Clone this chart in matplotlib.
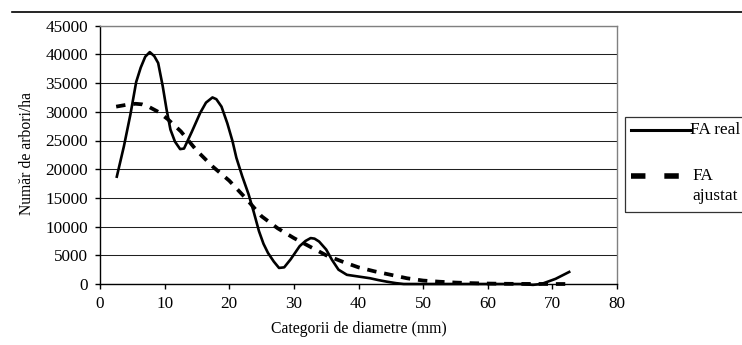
import matplotlib
matplotlib.use("Agg")
import matplotlib.pyplot as plt
from matplotlib.lines import Line2D
from matplotlib.patches import Rectangle

plt.rcParams['font.family'] = ['Liberation Serif', 'DejaVu Serif']

# Data
real_x = [2.6, 3.7, 4.7, 5.6, 6.3, 7.0, 7.7, 8.4, 9.0, 9.7, 10.3, 10.9, 11.6, 12.4, 13.0,
          14.2, 15.5, 16.4, 17.4, 18.0, 18.8, 19.7, 20.5, 21.1, 22.0, 23.0, 23.8, 24.6,
          25.3, 26.0, 26.9, 27.7, 28.5, 29.5, 30.9, 31.8, 32.6, 33.2, 33.9, 35.0, 35.9,
          36.9, 38.2, 40.0, 41.8, 43.0, 44.4, 45.8, 47.0, 50, 55, 60, 65, 67.0, 68.3,
          70.5, 72.6]
real_y = [18700, 24000, 29500, 35200, 37700, 39600, 40400, 39700, 38500, 34500, 30400,
          26900, 24800, 23500, 23600, 26500, 29800, 31600, 32500, 32200, 30900, 28000,
          24900, 22000, 18800, 15600, 12500, 9200, 7000, 5400, 3900, 2800, 2900, 4300,
          6600, 7500, 8000, 7900, 7400, 6000, 4200, 2500, 1600, 1300, 1000, 700, 400,
          150, 0, 0, 0, 0, 0, -150, 0, 900, 2100]

fit_x = [2.5, 4, 5.5, 6.5, 7.5, 9, 10.5, 12.5, 15, 17.5, 20, 22.5, 25, 27.5, 30, 32.5,
         35, 37.5, 40, 42.5, 45, 47.5, 50, 52.5, 55, 57.5, 60, 62.5, 65, 67.5, 70, 72.5]
fit_y = [30900, 31200, 31400, 31300, 30900, 30000, 28700, 26600, 23200, 20400, 18000,
         15000, 11800, 9700, 8000, 6500, 5000, 3900, 2900, 2200, 1600, 1000, 600, 400,
         250, 150, 80, 40, 20, 10, 0, 0]

series_labels = ["FA real", "FA\najustat"]
xlabel = "Categorii de diametre (mm)"
ylabel = "Număr de arbori/ha"
xticks = [0, 10, 20, 30, 40, 50, 60, 70, 80]
yticks = [0, 5000, 10000, 15000, 20000, 25000, 30000, 35000, 40000, 45000]

W, H = 742, 345
AX_L, AX_R, AX_T, AX_B = 100, 617, 25.7, 284
fig = plt.figure(figsize=(W / 100, H / 100), dpi=100)
ax = fig.add_axes([AX_L / W, 1 - AX_B / H, (AX_R - AX_L) / W, (AX_B - AX_T) / H])

ax.set_xlim(0, 80)
ax.set_ylim(0, 45000)
ax.set_xticks(xticks)
ax.set_yticks(yticks)
ax.set_yticklabels([str(v) for v in yticks])
ax.tick_params(axis='both', labelsize=12.3, direction='out', length=3.6, width=1,
               color='black', pad=5.2)
ax.yaxis.grid(True, color='#202020', linewidth=0.75)
ax.set_axisbelow(True)
for s in ['top', 'right']:
    ax.spines[s].set_color('#808080')
    ax.spines[s].set_linewidth(1.0)
for s in ['left', 'bottom']:
    ax.spines[s].set_color('black')
    ax.spines[s].set_linewidth(1.0)

ax.plot(real_x, real_y, color='black', linewidth=1.9, solid_joinstyle='round',
        clip_on=False)
ax.plot(fit_x, fit_y, color='black', linewidth=2.7, linestyle=(0, (2.5, 2.1)),
        dash_capstyle='butt', clip_on=False)

ax.set_xlabel(xlabel, fontsize=11.3, va='center')
ax.xaxis.set_label_coords(((AX_L + AX_R) / 2 - AX_L) / (AX_R - AX_L),
                          (AX_B - 329) / (AX_B - AX_T))
ax.set_ylabel(ylabel, fontsize=11.3, va='center')
ax.yaxis.set_label_coords((27.5 - AX_L) / (AX_R - AX_L),
                          (AX_B - 153.5) / (AX_B - AX_T))

# top rule
fig.add_artist(Line2D([12 / W, 1.0], [1 - 12 / H, 1 - 12 / H], color='black',
                      linewidth=1.2, transform=fig.transFigure))

# legend (drawn manually to match the reference layout)
fig.add_artist(Rectangle((624.5 / W, 1 - 212 / H), (760 - 624.5) / W, (212 - 116.5) / H,
                         transform=fig.transFigure, fill=False, edgecolor='#333333',
                         linewidth=0.9))
fig.add_artist(Line2D([631 / W, 690 / W], [1 - 130 / H, 1 - 130 / H], color='black',
                      linewidth=2.2, transform=fig.transFigure))
fig.text(690 / W, 1 - 130 / H, series_labels[0], fontsize=12.4, va='center', ha='left')
fig.add_artist(Line2D([631 / W, 691 / W], [1 - 176 / H, 1 - 176 / H], color='black',
                      linewidth=4.0, linestyle=(0, (2.6, 3.4)), dash_capstyle='butt',
                      transform=fig.transFigure))
fig.text(692 / W, 1 - 176 / H, series_labels[1].split("\n")[0], fontsize=12.4,
         va='center', ha='left')
fig.text(692 / W, 1 - 196 / H, series_labels[1].split("\n")[1], fontsize=12.4,
         va='center', ha='left')

fig.savefig("out.png", dpi=100)
